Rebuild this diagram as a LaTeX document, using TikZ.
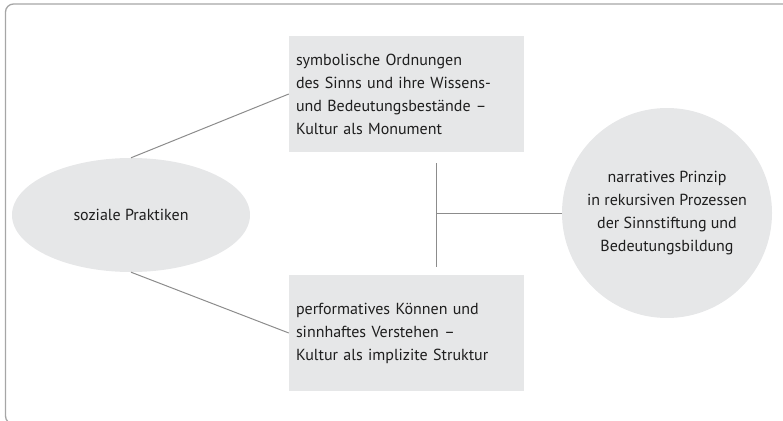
\documentclass[tikz,border=0pt]{standalone}
\usepackage{fontspec}
\setmainfont{PT Sans}
\usetikzlibrary{shapes.geometric, positioning}
\definecolor{fillgray}{HTML}{E6E7E8}
\definecolor{linegray}{HTML}{8C8C8C}
\definecolor{framegray}{HTML}{A6A6A6}
\definecolor{textgray}{HTML}{1E1E1E}

\begin{document}
\begin{tikzpicture}[x=1pt, y=-1pt,
  every node/.style={font=\fontsize{16}{23}\selectfont, text=textgray},
  textbox/.style={fill=fillgray, text width=221pt, inner xsep=7pt, inner ysep=0pt, minimum height=116pt, align=left},
  oval/.style={ellipse, fill=fillgray, minimum width=238pt, minimum height=114pt},
  round/.style={circle, fill=fillgray, minimum size=210pt, align=center},
  link/.style={draw=linegray, line width=1pt}]
  \useasboundingbox (0,0) rectangle (783,420);
  \clip (0,0) rectangle (783,420);
  \draw[framegray, line width=1.3pt, rounded corners=8pt] (5.5,4) rectangle (800,424);

  \node[oval] (praxis) at (131,215) {soziale Praktiken};
  \node[textbox] (ordnung) at (406.5,94) {symbolische Ordnungen\\des Sinns und ihre Wissens-\\und Bedeutungsbestände –\\Kultur als Monument};
  \node[textbox] (koennen) at (406.5,333) {performatives Können und\\sinnhaftes Verstehen –\\Kultur als implizite Struktur};
  \node[round] (prinzip) at (667,213) {narratives Prinzip\\in rekursiven Prozessen\\der Sinnstiftung und\\Bedeutungsbildung};

  \coordinate (oben) at (436,163);
  \coordinate (unten) at (436,267);

  \draw[link] (praxis.north) -- (ordnung.west);
  \draw[link] (praxis.south) -- (koennen.west);
  \draw[link] (oben) -- (unten);
  \draw[link] (oben |- prinzip) -- (prinzip.west);
\end{tikzpicture}
\end{document}
